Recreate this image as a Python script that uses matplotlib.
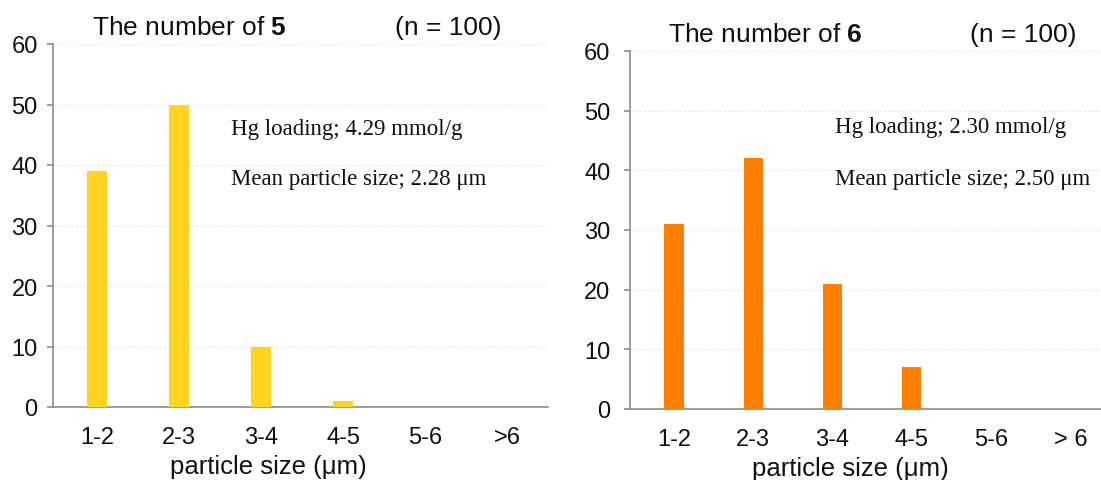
import matplotlib
matplotlib.use("Agg")
import matplotlib.pyplot as plt

categories = ["1-2", "2-3", "3-4", "4-5", "5-6", ">6"]
categories_right = ["1-2", "2-3", "3-4", "4-5", "5-6", "> 6"]
counts_5 = [39, 50, 10, 1, 0, 0]
counts_6 = [31, 42, 21, 7, 0, 0]
yticks = [0, 10, 20, 30, 40, 50, 60]

plt.rcParams['font.family'] = ['Liberation Sans', 'DejaVu Sans']
plt.rcParams['mathtext.fontset'] = 'custom'
plt.rcParams['mathtext.rm'] = 'Liberation Sans'
plt.rcParams['mathtext.bf'] = 'Liberation Sans:bold'

W, H = 1101, 481
fig = plt.figure(figsize=(W / 100, H / 100), dpi=100)


def fx(px):
    return px / W


def fy(py):
    return 1 - py / H


def panel(rect, labels, values, color, xlim, ann_x, ann_y1, ann_y2, ann1, ann2, ylab_pad, xlab_x):
    ax = fig.add_axes(rect)
    x = list(range(len(labels)))
    ax.bar(x, values, width=0.24, color=color, zorder=3)
    ax.set_xlim(*xlim)
    ax.set_ylim(0, 60)
    ax.set_yticks(yticks)
    ax.set_xticks(x)
    ax.set_xticklabels(labels)
    for s in ['top', 'right']:
        ax.spines[s].set_visible(False)
    for s in ['left', 'bottom']:
        ax.spines[s].set_color('#8c8c8c')
        ax.spines[s].set_linewidth(1.2)
    ax.tick_params(axis='x', length=0, pad=14, labelsize=17, colors='#111111')
    ax.tick_params(axis='y', length=4, width=1.2, color='#8c8c8c', pad=ylab_pad,
                   labelsize=17, labelcolor='#111111')
    ax.yaxis.grid(True, linestyle=(0, (2, 2)), color='#e4e4d8', linewidth=0.8, zorder=0)
    ax.set_xlabel("particle size (\u03bcm)", fontsize=18.5, labelpad=2, color='#111111')
    ax.xaxis.set_label_coords(xlab_x, -0.13)
    ax.xaxis.label.set_va('top')
    ax.text(ann_x, ann_y1, ann1, transform=fig.transFigure, family='Liberation Serif',
            fontsize=16.5, va='center', ha='left', color='#111111')
    ax.text(ann_x, ann_y2, ann2, transform=fig.transFigure, family='Liberation Serif',
            fontsize=16.5, va='center', ha='left', color='#111111')
    return ax


# left panel
panel([fx(53), fy(408), fx(548) - fx(53), fy(45) - fy(408)], categories, counts_5, '#FFD320',
      (-0.54, 5.5), fx(231), fy(130), fy(180),
      "Hg loading; 4.29 mmol/g", "Mean particle size; 2.28 \u03bcm", 7, 0.436)
fig.text(fx(92), fy(28), r"The number of $\mathbf{5}$", fontsize=19, va='center', ha='left',
         color='#111111')
fig.text(fx(395), fy(28), "(n = 100)", fontsize=19, va='center', ha='left', color='#111111')

# right panel
panel([fx(630), fy(410), fx(1110) - fx(630), fy(52) - fy(410)], categories_right, counts_6, '#FF8000',
      (-0.555, 5.5), fx(835), fy(128), fy(180),
      "Hg loading; 2.30 mmol/g", "Mean particle size; 2.50 \u03bcm", 10, 0.46)
fig.text(fx(668), fy(35), r"The number of $\mathbf{6}$", fontsize=19, va='center', ha='left',
         color='#111111')
fig.text(fx(970), fy(35), "(n = 100)", fontsize=19, va='center', ha='left', color='#111111')

fig.savefig("out.png", dpi=100)
